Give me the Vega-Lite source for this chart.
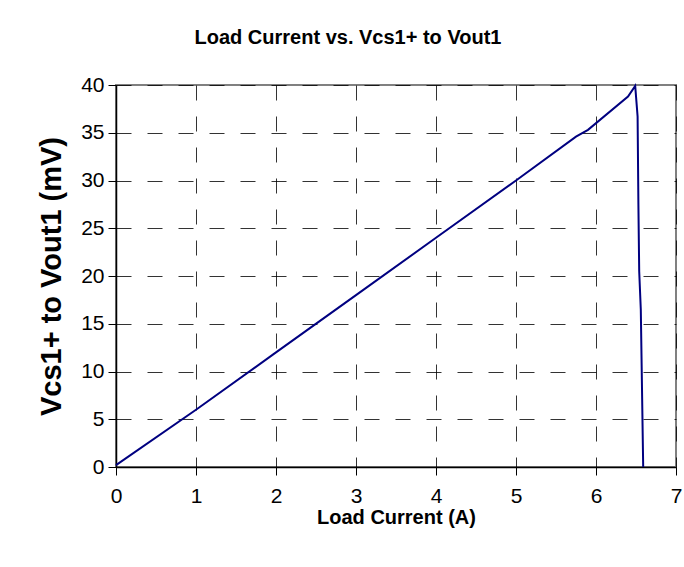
{
  "$schema": "https://vega.github.io/schema/vega-lite/v6.json",
  "autosize": "none",
  "width": 560,
  "height": 382,
  "padding": {"left": 116, "top": 85, "right": 8, "bottom": 100},
  "background": "white",
  "title": {
    "text": "Load Current vs. Vcs1+ to Vout1",
    "font": "Liberation Sans",
    "fontSize": 20,
    "fontWeight": "bold",
    "color": "black",
    "anchor": "middle",
    "dx": -48,
    "offset": 26
  },
  "data": {
    "values": [
      {"i": 0, "current": 0, "v": 0.2},
      {"i": 1, "current": 1, "v": 6.0},
      {"i": 2, "current": 2, "v": 12.0},
      {"i": 3, "current": 3, "v": 18.0},
      {"i": 4, "current": 4, "v": 24.0},
      {"i": 5, "current": 5, "v": 30.0},
      {"i": 6, "current": 5.75, "v": 34.6},
      {"i": 7, "current": 5.9, "v": 35.3},
      {"i": 8, "current": 6.4, "v": 38.8},
      {"i": 9, "current": 6.49, "v": 39.9},
      {"i": 10, "current": 6.52, "v": 36.7},
      {"i": 11, "current": 6.53, "v": 27.5},
      {"i": 12, "current": 6.54, "v": 20.5},
      {"i": 13, "current": 6.56, "v": 16.5},
      {"i": 14, "current": 6.59, "v": 0}
    ]
  },
  "mark": {"type": "line", "color": "#000080", "strokeWidth": 2, "clip": false},
  "encoding": {
    "x": {
      "field": "current",
      "type": "quantitative",
      "scale": {"domain": [0, 7], "nice": false, "zero": true},
      "axis": {
        "title": "Load Current (A)",
        "values": [0, 1, 2, 3, 4, 5, 6, 7],
        "titleFont": "Liberation Sans",
        "titleFontSize": 20,
        "titleFontWeight": "bold",
        "titleColor": "black",
        "titlePadding": 1,
        "labelFont": "Liberation Sans",
        "labelFontSize": 21,
        "labelColor": "black",
        "labelPadding": 10,
        "labelFlush": false,
        "domainColor": "black",
        "domainWidth": 1.5,
        "tickColor": "black",
        "tickSize": 8,
        "grid": true,
        "gridColor": "black",
        "gridDash": [15, 16],
        "gridOpacity": 0.8
      }
    },
    "y": {
      "field": "v",
      "type": "quantitative",
      "scale": {"domain": [0, 40], "nice": false},
      "axis": {
        "title": "Vcs1+ to Vout1 (mV)",
        "values": [0, 5, 10, 15, 20, 25, 30, 35, 40],
        "titleFont": "Liberation Sans",
        "titleFontSize": 29,
        "titleFontWeight": "bold",
        "titleColor": "black",
        "titlePadding": 14,
        "labelFont": "Liberation Sans",
        "labelFontSize": 21,
        "labelColor": "black",
        "labelPadding": 4,
        "labelFlush": false,
        "domainColor": "black",
        "domainWidth": 1.5,
        "tickColor": "black",
        "tickSize": 8,
        "grid": true,
        "gridColor": "black",
        "gridDash": [15, 16],
        "gridOpacity": 0.8
      }
    },
    "order": {"field": "i", "type": "quantitative"}
  },
  "config": {
    "view": {"stroke": "#808080", "strokeWidth": 2}
  }
}
